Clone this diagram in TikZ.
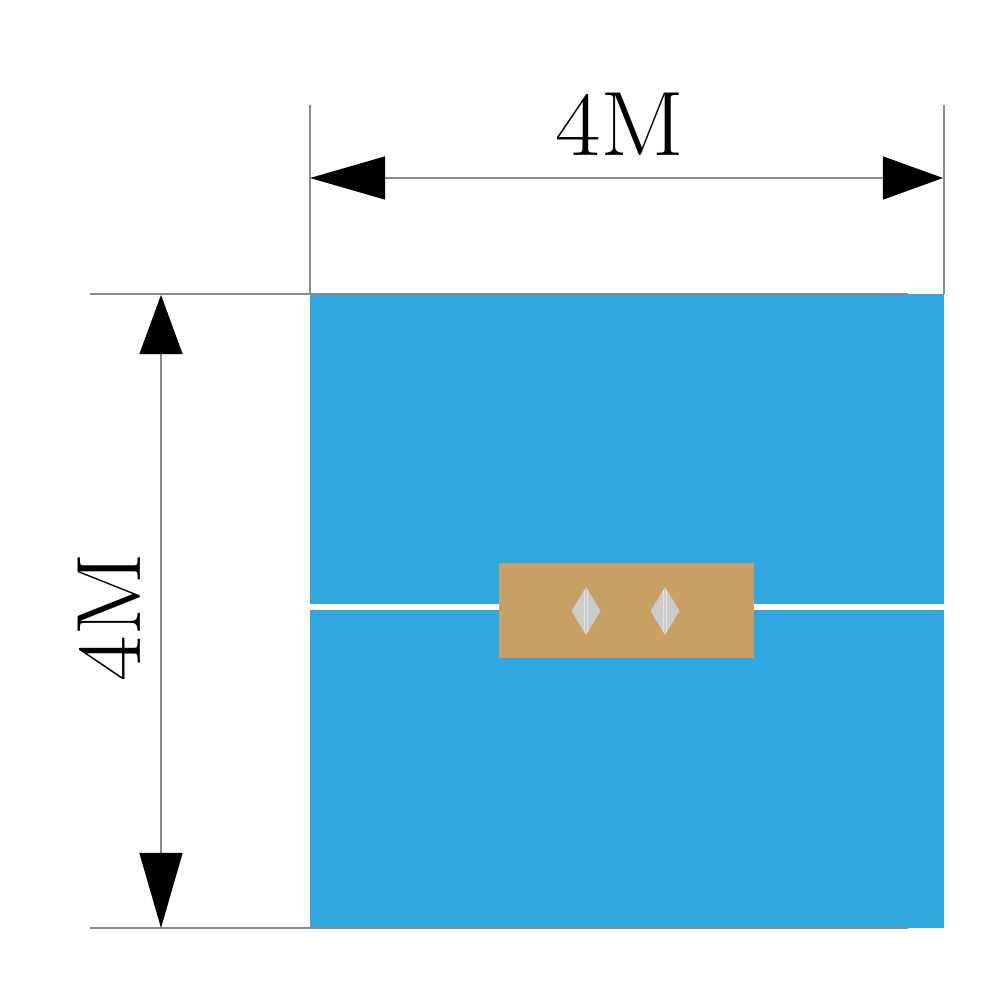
\documentclass[tikz,border=0pt]{standalone}
\usetikzlibrary{arrows.meta}
\definecolor{poolblue}{HTML}{31A7E0}
\definecolor{tan}{HTML}{C9A063}
\definecolor{diag}{HTML}{CCCCCC}
\definecolor{dimgrey}{HTML}{8A8A8A}
\begin{document}
\begin{tikzpicture}[x=0.01cm,y=-0.01cm,
  extline/.style={draw=dimgrey,line width=0.35pt},
  dimline/.style={draw=dimgrey,line width=0.35pt},
  dimlabel/.style={inner sep=0pt,font=\fontsize{26}{31}\selectfont},
  diamondshape/.style={fill=diag},
  ]
\useasboundingbox[fill=white] (0,0) rectangle (1000,1000);
% blue area
\fill[poolblue] (310,294) rectangle (944,928);
% white stripe
\fill[white] (310,604) rectangle (944,610);
% tan block
\fill[tan] (499,563) rectangle (754,658);
% diamonds
\foreach \cx/\nm in {586/da,665/db}{
  \fill[diamondshape] (\cx,587) -- (\cx+14.5,611) -- (\cx,635) -- (\cx-14.5,611) -- cycle;
  \draw[white,opacity=0.45,line width=0.3pt] (\cx-1.5,590) -- (\cx-1.5,632) (\cx+1.5,590) -- (\cx+1.5,632);
}
% coordinates
\coordinate (hl) at (310,178);
\coordinate (hr) at (943,178);
\coordinate (vt) at (161,295);
\coordinate (vb) at (161,928);
% extension lines
\draw[extline] (310,105) -- (310,294);
\draw[extline] (944,105) -- (944,294);
\draw[extline] (90,294) -- (908,294);
\draw[extline] (90,928) -- (908,928);
% dimension lines
\draw[dimline,{Triangle[length=0.75cm,width=0.43cm,fill=black,color=black]}-{Triangle[length=0.6cm,width=0.43cm,fill=black,color=black]}] (hl) -- (hr);
\draw[dimline,{Triangle[length=0.59cm,width=0.43cm,fill=black,color=black]}-{Triangle[length=0.75cm,width=0.43cm,fill=black,color=black]}] (vt) -- (vb);
% labels
\node[dimlabel] (top) at (620,124) {\scalebox{1.08}[1]{4M}};
\node[dimlabel,rotate=90] (left) at (109,617) {\scalebox{1.08}[1]{4M}};
\end{tikzpicture}
\end{document}
